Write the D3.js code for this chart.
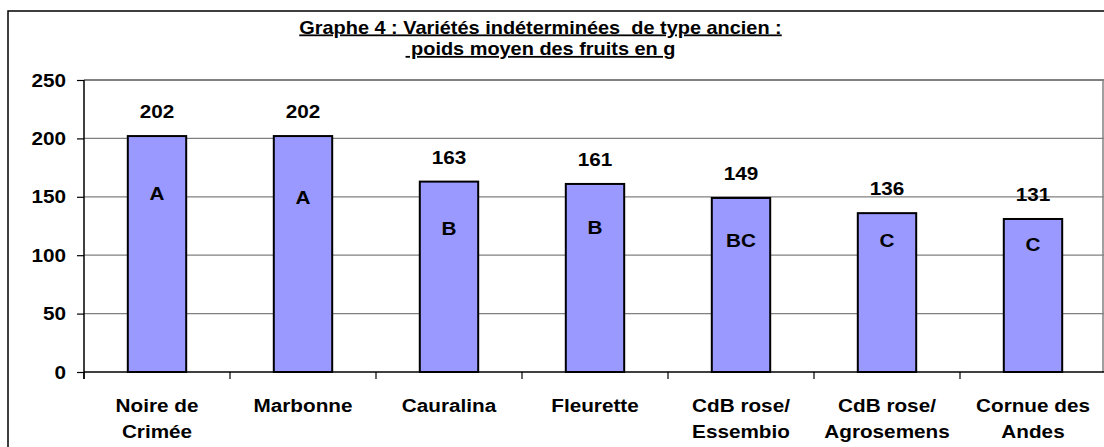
<!DOCTYPE html>
<html><head><meta charset="utf-8">
<script src="https://cdn.jsdelivr.net/npm/d3@7"></script>
<style>
html,body{margin:0;padding:0;background:#fff;}
svg{display:block;}
text{font-family:"Liberation Sans",Arial,sans-serif;font-weight:bold;fill:#000;white-space:pre;}
</style></head>
<body>
<script>
const categories = [["Noire de","Crimée"],["Marbonne"],["Cauralina"],["Fleurette"],["CdB rose/","Essembio"],["CdB rose/","Agrosemens"],["Cornue des","Andes"]];
const values = [202,202,163,161,149,136,131];
const groups = ["A","A","B","B","BC","C","C"];
const groupLevels = [153,149,123,124,113,113,109];
const yTicks = [0,50,100,150,200,250];
const titleLines = ["Graphe 4 : Variétés indéterminées  de type ancien :"," poids moyen des fruits en g"];

const W = 1104, H = 447;
const SX = 1.12;
const svg = d3.select("body").append("svg").attr("width",W).attr("height",H);

// outer frame
svg.append("rect").attr("x",8).attr("y",11).attr("width",1120).attr("height",460)
  .attr("fill","none").attr("stroke","#000").attr("stroke-width",1.5);

const y = d3.scaleLinear().domain([0,250]).range([372,80]);
const x = d3.scaleBand().domain(d3.range(values.length)).range([84,1106]).paddingInner(0.6).paddingOuter(0.3);

function txt(g, tx, ty, s, size, anchor){
  const t = g.append("g").attr("transform",`translate(${tx},${ty}) scale(${SX},1)`)
    .append("text").attr("text-anchor",anchor||"middle").attr("font-size",size).text(s);
  return t;
}

// gridlines
svg.append("g").selectAll("line").data(yTicks.filter(d=>d>0)).join("line")
  .attr("x1",84).attr("x2",1104).attr("y1",d=>y(d)).attr("y2",d=>y(d))
  .attr("stroke","#808080").attr("stroke-width",d=>d===250?2:1.2);
// right plot border
svg.append("line").attr("x1",1103).attr("x2",1103).attr("y1",y(250)).attr("y2",y(0)).attr("stroke","#808080").attr("stroke-width",1.5);

// bars
svg.append("g").selectAll("rect").data(values).join("rect")
  .attr("x",(d,i)=>x(i)).attr("width",x.bandwidth())
  .attr("y",d=>y(d)).attr("height",d=>y(0)-y(d))
  .attr("fill","#9999FF").attr("stroke","#000").attr("stroke-width",2);

// axes
const yAxis = svg.append("g").attr("transform","translate(84,0)")
  .call(d3.axisLeft(y).tickValues(yTicks).tickSize(7).tickFormat(""));
yAxis.select(".domain").remove();
yAxis.selectAll(".tick line").attr("stroke","#000").attr("stroke-width",1.2);
svg.append("line").attr("x1",84).attr("x2",84).attr("y1",y(250)).attr("y2",y(0)+7).attr("stroke","#000").attr("stroke-width",1.5);
svg.append("line").attr("x1",84).attr("x2",1104).attr("y1",y(0)).attr("y2",y(0)).attr("stroke","#000").attr("stroke-width",1.5);
const bt = d3.range(values.length+1).map(i=>x.range()[0]+i*x.step());
svg.append("g").selectAll("line").data(bt).join("line")
  .attr("x1",d=>d).attr("x2",d=>d).attr("y1",y(0)).attr("y2",y(0)+7).attr("stroke","#000").attr("stroke-width",1.2);

const lab = svg.append("g");
yTicks.forEach(t=>txt(lab,66,y(t)+6.5,String(t),18.5,"end"));

// value labels & group letters
values.forEach((v,i)=>{
  const cx = x(i)+x.bandwidth()/2;
  txt(lab,cx,y(v)-18,String(v),18.5);
  txt(lab,cx,y(groupLevels[i])+6.5,groups[i],18.5);
});

// category labels
categories.forEach((c,i)=>{
  const cx = x(i)+x.bandwidth()/2;
  c.forEach((line,j)=>txt(lab,cx,411.5+j*26.5,line,18.5));
});

// title
titleLines.forEach((s,j)=>{
  txt(lab,540.5,33.5+j*21.5,s,17.8).attr("text-decoration","underline");
});
</script>
</body></html>
